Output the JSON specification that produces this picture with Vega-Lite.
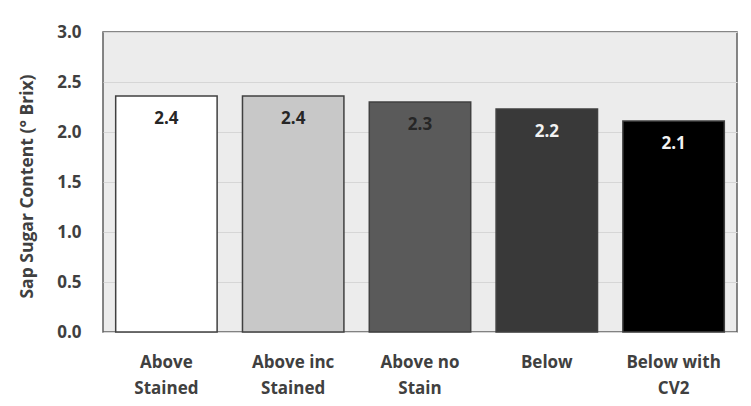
{
  "$schema": "https://vega.github.io/schema/vega-lite/v6.json",
  "width": 634,
  "height": 300,
  "autosize": "none",
  "padding": {"left": 103, "top": 32, "right": 14, "bottom": 74},
  "background": "white",
  "config": {
    "view": {"fill": "#ececec", "stroke": "#5f5f5f", "strokeWidth": 1.5},
    "font": "Open Sans"
  },
  "data": {
    "values": [
      {"group": "Above|Stained", "value": 2.36},
      {"group": "Above inc|Stained", "value": 2.36},
      {"group": "Above no|Stain", "value": 2.30},
      {"group": "Below", "value": 2.23},
      {"group": "Below with|CV2", "value": 2.11}
    ]
  },
  "encoding": {
    "x": {
      "field": "group",
      "type": "nominal",
      "sort": null,
      "scale": {"paddingInner": 0.2, "paddingOuter": 0.1},
      "axis": {
        "title": null,
        "labelAngle": 0,
        "labelExpr": "split(datum.label, '|')",
        "labelFont": "Open Sans",
        "labelFontSize": 17,
        "labelFontWeight": "bold",
        "labelColor": "#404040",
        "labelLineHeight": 26,
        "labelPadding": 22,
        "labelBaseline": "top",
        "ticks": false,
        "domain": false,
        "grid": false
      }
    },
    "y": {
      "field": "value",
      "type": "quantitative",
      "scale": {"domain": [0, 3]},
      "axis": {
        "title": "Sap Sugar Content (° Brix)",
        "titleFont": "Open Sans",
        "titleFontSize": 17.5,
        "titleFontWeight": "bold",
        "titleColor": "#404040",
        "titleX": -76,
        "titleY": 154,
        "titleAngle": -90,
        "titleAlign": "center",
        "titleBaseline": "middle",
        "values": [0, 0.5, 1, 1.5, 2, 2.5, 3],
        "format": ".1f",
        "labelFont": "Open Sans",
        "labelFontSize": 17,
        "labelFontWeight": "bold",
        "labelColor": "#404040",
        "labelPadding": 22,
        "ticks": false,
        "domain": false,
        "grid": true,
        "gridColor": "#d6d6d6",
        "gridWidth": 1.2
      }
    }
  },
  "layer": [
    {
      "mark": {"type": "bar", "stroke": "#404040", "strokeWidth": 1.5},
      "encoding": {
        "color": {
          "field": "group",
          "type": "nominal",
          "sort": null,
          "scale": {"range": ["#ffffff", "#c8c8c8", "#5a5a5a", "#393939", "#000000"]},
          "legend": null
        }
      }
    },
    {
      "mark": {"type": "text", "dy": 23, "baseline": "middle", "fontSize": 17, "fontWeight": "bold", "font": "Open Sans"},
      "encoding": {
        "text": {"field": "value", "type": "quantitative", "format": ".1f"},
        "color": {
          "condition": {"test": "datum.value < 2.25", "value": "#f2f2f2"},
          "value": "#262626"
        }
      }
    }
  ]
}
